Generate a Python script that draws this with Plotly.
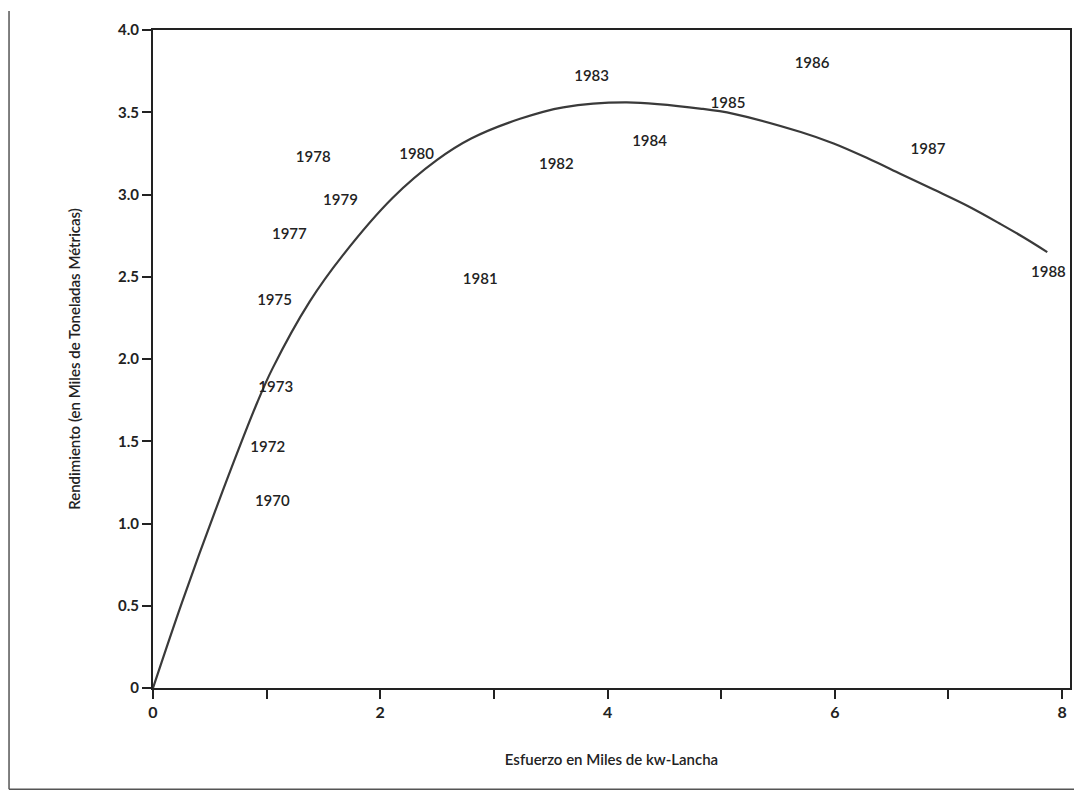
import plotly.graph_objects as go

# Year labels (effort in thousand kw-boat, yield in thousand metric tons)
years = ["1970", "1972", "1973", "1975", "1977", "1978", "1979", "1980", "1981",
         "1982", "1983", "1984", "1985", "1986", "1987", "1988"]
effort = [1.05, 1.01, 1.08, 1.07, 1.20, 1.41, 1.65, 2.32, 2.88,
          3.55, 3.86, 4.37, 5.06, 5.80, 6.82, 7.88]
yield_ = [1.13, 1.46, 1.82, 2.35, 2.75, 3.22, 2.96, 3.24, 2.48,
          3.18, 3.71, 3.32, 3.55, 3.79, 3.27, 2.52]

# Fitted production curve
curve_x = [0.0, 0.26, 0.56, 0.92, 1.05, 1.38, 1.67, 2.11, 2.50, 2.80, 3.23,
           3.61, 4.17, 4.84, 5.11, 5.70, 5.99, 6.29, 6.58, 6.87, 7.17,
           7.46, 7.66, 7.87]
curve_y = [0.0, 0.53, 1.10, 1.74, 1.94, 2.35, 2.63, 2.98, 3.21, 3.34, 3.46,
           3.53, 3.56, 3.52, 3.49, 3.38, 3.31, 3.22, 3.125, 3.03, 2.93,
           2.82, 2.74, 2.65]

x_tickvals = [0, 1, 2, 3, 4, 5, 6, 7, 8]
x_ticktext = ["0", "", "2", "", "4", "", "6", "", "8"]
y_tickvals = [0, 0.5, 1.0, 1.5, 2.0, 2.5, 3.0, 3.5, 4.0]
y_ticktext = ["0", "0.5", "1.0", "1.5", "2.0", "2.5", "3.0", "3.5", "4.0"]

INK = "#222222"
FONT = "Lato"

fig = go.Figure()
fig.add_trace(go.Scatter(x=curve_x, y=curve_y, mode="lines",
                         line=dict(color="#3a3a3a", width=2.2, shape="spline",
                                   smoothing=1.0),
                         hoverinfo="skip", showlegend=False))
fig.add_trace(go.Scatter(x=effort, y=yield_, mode="text", text=years,
                         textposition="middle center",
                         textfont=dict(family=FONT, size=15, color=INK, weight=600),
                         showlegend=False))

fig.update_layout(
    width=1082, height=794,
    margin=dict(l=145, r=20, t=19, b=114),
    paper_bgcolor="white", plot_bgcolor="white",
    font=dict(family=FONT, color=INK),
    xaxis=dict(range=[0, 8.07], tickvals=x_tickvals, ticktext=x_ticktext,
               ticks="outside", ticklen=9, tickwidth=2, tickcolor=INK,
               showline=True, linecolor=INK, linewidth=2, mirror=True,
               showgrid=False, zeroline=False,
               tickfont=dict(family=FONT, size=16, color=INK, weight=700),
               title=dict(text="Esfuerzo en Miles de kw-Lancha",
                          font=dict(family=FONT, size=15, color=INK, weight=600),
                          standoff=34)),
    yaxis=dict(range=[0, 4.0], tickvals=y_tickvals, ticktext=y_ticktext,
               ticks="outside", ticklen=9, tickwidth=2, tickcolor=INK,
               showline=True, linecolor=INK, linewidth=2, mirror=True,
               showgrid=False, zeroline=False,
               tickfont=dict(family=FONT, size=15, color=INK, weight=700),
               title=dict(text="Rendimiento (en Miles de Toneladas Métricas)",
                          font=dict(family=FONT, size=15, color=INK, weight=600),
                          standoff=34)),
    shapes=[
        dict(type="line", xref="paper", yref="paper", x0=-0.157, x1=-0.157,
             y0=-0.154, y1=1.029, line=dict(color="#555", width=1.5)),
        dict(type="line", xref="paper", yref="paper", x0=-0.157, x1=1.013,
             y0=-0.154, y1=-0.154, line=dict(color="#555", width=1.5)),
    ],
)

fig.write_html("out.html")
